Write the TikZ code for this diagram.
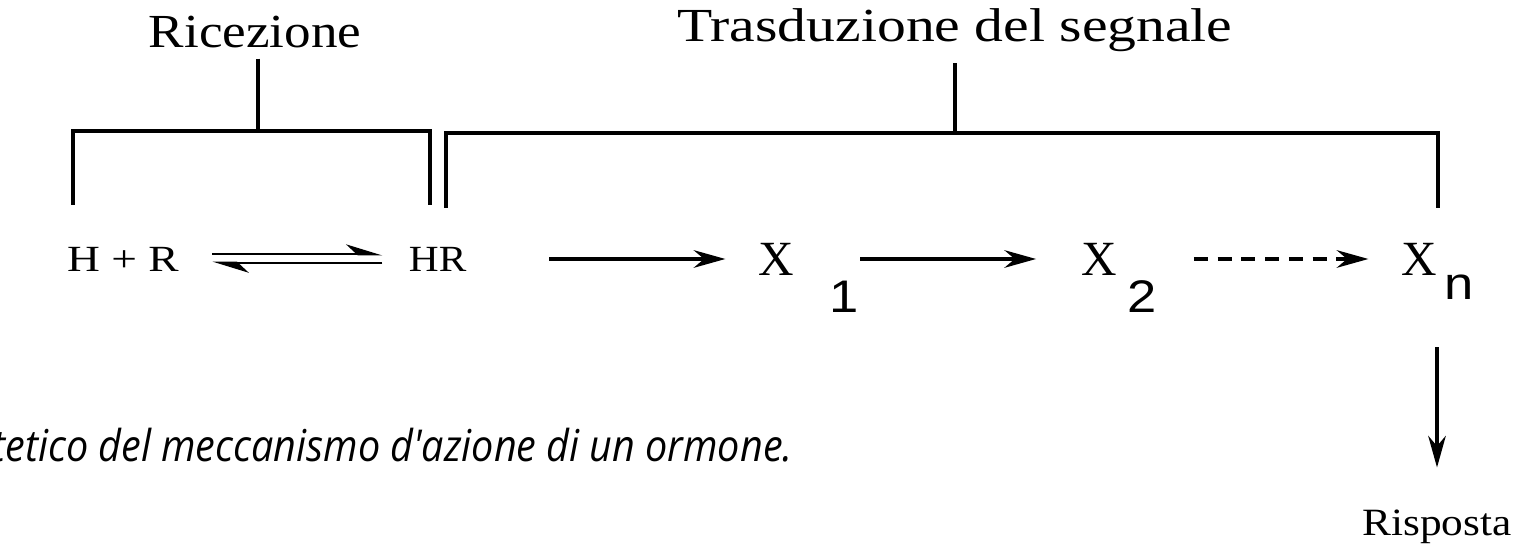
\documentclass[tikz,border=0pt]{standalone}
\usepackage{fontspec}
\setmainfont{Liberation Serif}
\newfontfamily\subfont{Liberation Sans}
\newfontfamily\notefont{Open Sans}
\usetikzlibrary{arrows.meta,positioning}
\newcommand{\Xsub}[3]{X\hspace{#1}\raisebox{-#2}{\subfont\fontsize{26}{26}\selectfont\scalebox{1.15}[1]{#3}}}
\tikzset{
  headText/.style = {inner sep=0pt, font=\fontsize{27}{27}\selectfont, xscale=1.12, text depth=0pt},
  chemText/.style = {inner sep=0pt, font=\fontsize{21}{21}\selectfont, xscale=1.12, text height=14pt, text depth=0pt},
  xText/.style    = {inner sep=0pt, font=\fontsize{28}{28}\selectfont, text height=18.5pt, text depth=0pt},
  noteText/.style = {inner sep=0pt, font=\notefont\itshape\fontsize{25}{25}\selectfont, xscale=0.9},
  eqArrow/.style  = {-{Stealth[left,length=18pt,width=11pt]}, line width=1.6pt},
  >={Stealth[length=18pt,width=10pt]}
}
\begin{document}
\begin{tikzpicture}[x=0.02cm,y=-0.02cm,line width=2pt]
	\useasboundingbox (0,0) rectangle (1534,546);
	\node[headText,anchor=base] (ric) at (255,48) {Ricezione};
	\node[headText,anchor=base,xscale=1.085] (tra) at (955,42) {Trasduzione del segnale};
	\coordinate (ricTop) at (258,131);
	\coordinate (traTop) at (955,133);
	\coordinate (ricL) at (73,205);
	\coordinate (ricR) at (430,205);
	\coordinate (traL) at (446,208);
	\coordinate (traR) at (1438,208);
	\draw (ricL) |- (ricTop) -| (ricR);
	\draw (traL) |- (traTop) -| (traR);
	\draw[shorten <=5pt] (ric.south -| ricTop) -- (ricTop);
	\draw[shorten <=11pt] (tra.south) -- (traTop);
	\node[chemText,anchor=west,xscale=1.1] (hr0) at (65,259) {H + R};
	\node[chemText,anchor=west] (hr) at (407,259) {HR};
	\node[xText,anchor=west] (x1) at (757,259) {\Xsub{20pt}{21pt}{1}};
	\node[xText,anchor=west] (x2) at (1080,259) {\Xsub{6pt}{21pt}{2}};
	\node[xText,anchor=west] (xn) at (1400,259) {\Xsub{4pt}{14pt}{n}};
	\node[chemText,anchor=base,font=\fontsize{22}{22}\selectfont] (risp) at (1437,536) {Risposta};
	\draw[eqArrow,shorten <=18pt,shorten >=14pt] ([yshift=2.8pt]hr0.east) -- ([yshift=2.8pt]hr.west);
	\draw[eqArrow,shorten <=14pt,shorten >=18pt] ([yshift=-2.3pt]hr.west) -- ([yshift=-2.3pt]hr0.east);
	\draw[->,shorten <=46pt,shorten >=18pt] (hr) -- (x1);
	\draw[->,shorten <=0pt,shorten >=25pt] (x1) -- (x2);
	\draw[->,dash pattern=on 8pt off 5.5pt,shorten <=20pt,shorten >=18pt] (x2) -- (xn);
	\draw[->,shorten <=40pt,shorten >=24pt] (risp.north |- xn.south) -- (risp.north);
	\node[noteText,anchor=base west] (note) at (-9,462) {tetico del meccanismo d\textquotesingle azione di un ormone.};
\end{tikzpicture}
\end{document}
